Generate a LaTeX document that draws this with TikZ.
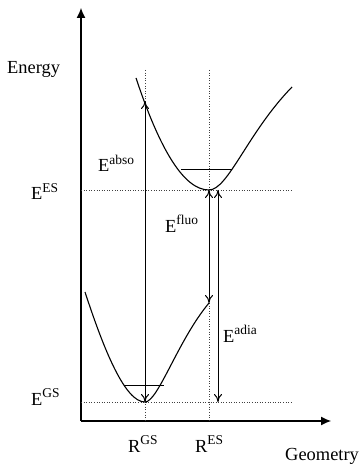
\documentclass[tikz,border=0pt]{standalone}
\usepackage{fontspec}
\setmainfont{Liberation Serif}
\usepackage{tikz}
\usetikzlibrary{arrows.meta,positioning,calc}

\newcommand{\hi}[1]{\raisebox{0.42em}{\fontsize{13.5}{14}\selectfont #1}}

\tikzset{
  axis/.style={line width=1.1pt, -{Latex[length=10pt,width=9pt]}},
  guide/.style={dotted, line width=0.6pt, black!75},
  curve/.style={line width=1.1pt},
  level/.style={line width=1pt},
  transition/.style={line width=1pt, {To[length=8pt,width=8pt]}-{To[length=8pt,width=8pt]}},
  lbl/.style={anchor=base west, inner sep=0pt, font=\fontsize{18.5}{20}\selectfont}
}

\begin{document}
\begin{tikzpicture}[x=1bp, y=-1bp]
  \useasboundingbox (0,0) rectangle (361,464);

  % Axes
  \coordinate (O) at (81,421);
  \coordinate (ytop) at (81,8);
  \coordinate (xend) at (331,421);
  \draw[axis] (O) -- (ytop);
  \draw[axis] (O) -- (xend);

  % Key points
  \coordinate (gsmin) at (145,402);
  \coordinate (esmin) at (209,190);
  \coordinate (abstop) at (145,101);
  \coordinate (fluobot) at (209,303);
  \coordinate (adiatop) at (218,190);
  \coordinate (adiabot) at (218,402);

  % Guide lines
  \draw[guide] (145,70) -- (145,421);
  \draw[guide] (209,70) -- (209,421);
  \draw[guide] (O |- esmin) -- (292,190);
  \draw[guide] (O |- gsmin) -- (292,402);

  % Excited state curve
  \draw[curve] (136,78) .. controls (160,150) and (184,190) .. (esmin)
               .. controls (228,190) and (248,132) .. (292,87);
  \draw[level] (181,169) -- (232,169);

  % Ground state curve
  \draw[curve] (85,292) .. controls (104,350) and (125,402) .. (gsmin)
               .. controls (158,402) and (178,340) .. (fluobot);
  \draw[level] (124,385) -- (164,385);

  % Transitions
  \draw[transition] (gsmin) -- (abstop);
  \draw[transition] (esmin) -- (fluobot);
  \draw[transition] (adiatop) -- (adiabot);

  % Labels
  \node[lbl] (energy) at (7,74) {Energy};
  \node[lbl] (ees) at (31,200) {E\hi{ES}};
  \node[lbl] (egs) at (31,405) {E\hi{GS}};
  \node[lbl] (eabso) at (98,172) {E\hi{abso}};
  \node[lbl] (efluo) at (165,232) {E\hi{fluo}};
  \node[lbl] (eadia) at (223,342) {E\hi{adia}};
  \node[lbl] (rgs) at (128,452) {R\hi{GS}};
  \node[lbl] (res) at (195,452) {R\hi{ES}};
  \node[lbl] (geom) at (285,460) {Geometry};
\end{tikzpicture}
\end{document}
